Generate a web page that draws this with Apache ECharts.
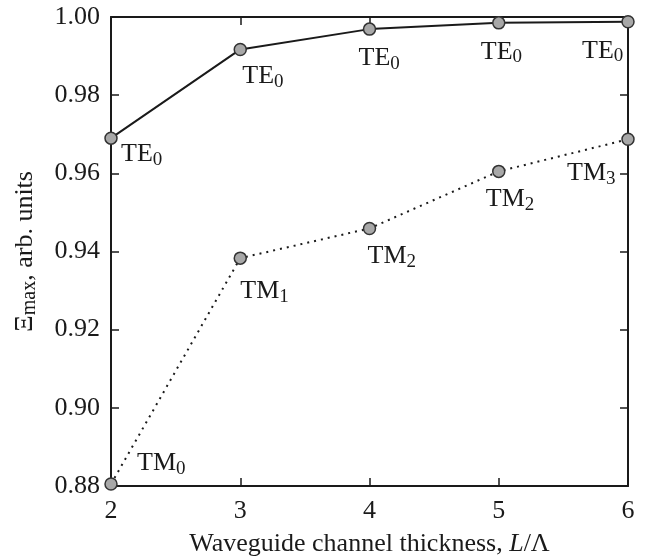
<!DOCTYPE html>
<html>
    <head>
        <meta charset="UTF-8">
        <title>Xi max vs waveguide channel thickness</title>
        <script src="https://cdn.jsdelivr.net/npm/echarts@6/dist/echarts.min.js"></script>
        <style>
            html, body {
                margin: 0;
                padding: 0;
                background: #fff;
            }
            #chart {
                width: 645px;
                height: 559px;
            }
        </style>
    </head>
    <body>
        <div id="chart"></div>
        <script>
            // channel thickness L/Lambda
            const thickness = [2, 3, 4, 5, 6];
            // Xi_max of the TE and TM branches
            const teValues = [0.969, 0.9917, 0.9969, 0.9985, 0.9988];
            const tmValues = [0.8805, 0.9383, 0.9459, 0.9605, 0.9687];
            // mode index written next to each point
            const teModes = [0, 0, 0, 0, 0];
            const tmModes = [0, 1, 2, 2, 3];

            // where each label sits relative to its marker (left / top of the text)
            const teLabelOffset = [[10, 3], [2, 14], [-11, 16], [-18, 16], [-46, 16]];
            const tmLabelOffset = [[26, -34], [0, 20], [-2, 15], [-13, 15], [-61, 21]];

            const FONT = 'Liberation Serif';
            const INK = '#1a1a1a';

            const labelRich = {
                m: { fontFamily: FONT, fontSize: 26, color: INK, lineHeight: 26 },
                s: { fontFamily: FONT, fontSize: 19, color: INK, lineHeight: 26, padding: [11, 0, 0, 0] }
            };

            function buildPoints(values, modes, offsets, name) {
                return thickness.map(function (x, i) {
                    return {
                        value: [x, values[i]],
                        label: {
                            show: true,
                            position: 'inside',
                            align: 'left',
                            verticalAlign: 'top',
                            offset: offsets[i],
                            formatter: '{m|' + name + '}{s|' + modes[i] + '}',
                            rich: labelRich
                        }
                    };
                });
            }

            const markerStyle = {
                color: '#a8a8a8',
                borderColor: '#333',
                borderWidth: 1.5
            };

            const chart = echarts.init(document.getElementById('chart'));

            const frameAxis = {
                axisLine: { show: true, onZero: false, lineStyle: { color: INK, width: 2 } },
                axisTick: { show: true, inside: true, length: 8, lineStyle: { color: INK, width: 1.5 } },
                splitLine: { show: false }
            };

            chart.setOption({
                animation: false,
                grid: { left: 111, right: 17, top: 17, bottom: 73, outerBoundsMode: 'none', containLabel: false },
                xAxis: [
                    Object.assign({
                        type: 'value', min: 2, max: 6, interval: 1, position: 'bottom',
                        axisLabel: { fontFamily: FONT, fontSize: 26, color: INK, margin: 12 },
                        name: '{a|Waveguide channel thickness, }{i|L}{a|/\u039b}',
                        nameLocation: 'middle',
                        nameGap: 45,
                        nameTextStyle: {
                            rich: {
                                a: { fontFamily: FONT, fontSize: 26, color: INK },
                                i: { fontFamily: FONT, fontSize: 26, color: INK, fontStyle: 'italic' }
                            }
                        }
                    }, frameAxis),
                    Object.assign({
                        type: 'value', min: 2, max: 6, interval: 1, position: 'top',
                        axisLabel: { show: false }
                    }, frameAxis)
                ],
                yAxis: [
                    Object.assign({
                        type: 'value', min: 0.88, max: 1.0, interval: 0.02, position: 'left',
                        axisLabel: {
                            fontFamily: FONT, fontSize: 26, color: INK, margin: 11,
                            formatter: function (v) { return v.toFixed(2); }
                        },
                        name: '{a|\u039e}{s|max}{a|, arb. units}',
                        nameLocation: 'middle',
                        nameGap: 72,
                        nameRotate: 90,
                        nameTextStyle: {
                            rich: {
                                a: { fontFamily: FONT, fontSize: 26, color: INK, lineHeight: 28 },
                                s: { fontFamily: FONT, fontSize: 20, color: INK, lineHeight: 28, padding: [10, 0, 0, 0] }
                            }
                        }
                    }, frameAxis),
                    Object.assign({
                        type: 'value', min: 0.88, max: 1.0, interval: 0.02, position: 'right',
                        axisLabel: { show: false }
                    }, frameAxis)
                ],
                series: [
                    {
                        name: 'TE',
                        type: 'line',
                        data: buildPoints(teValues, teModes, teLabelOffset, 'TE'),
                        symbol: 'circle',
                        symbolSize: 12,
                        itemStyle: markerStyle,
                        lineStyle: { color: INK, width: 2 },
                        z: 3
                    },
                    {
                        name: 'TM',
                        type: 'line',
                        data: buildPoints(tmValues, tmModes, tmLabelOffset, 'TM'),
                        symbol: 'circle',
                        symbolSize: 12,
                        itemStyle: markerStyle,
                        lineStyle: { color: INK, width: 2, type: [2, 5] },
                        z: 3
                    }
                ]
            });
        </script>
    </body>
</html>
